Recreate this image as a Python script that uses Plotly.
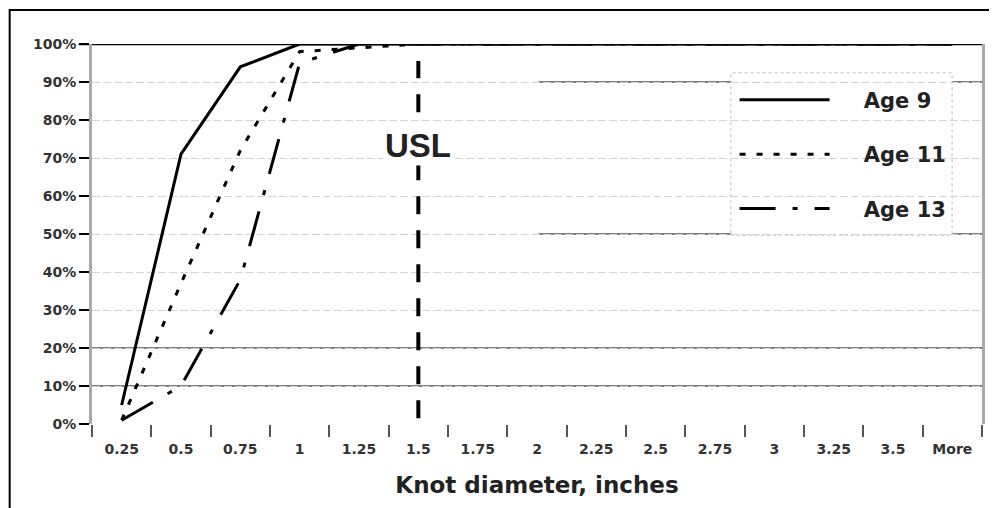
import plotly.graph_objects as go

# knot diameter bins (Excel histogram style, last bin "More")
categories = ['0.25', '0.5', '0.75', '1', '1.25', '1.5', '1.75', '2',
              '2.25', '2.5', '2.75', '3', '3.25', '3.5', 'More']

# cumulative percent by age
age9 = [5, 71, 94, 100, 100, 100, 100, 100, 100, 100, 100, 100, 100, 100, 100]
age11 = [1, 37, 72, 98, 99, 100, 100, 100, 100, 100, 100, 100, 100, 100, 100]
age13 = [1, 10, 38, 95, 100, 100, 100, 100, 100, 100, 100, 100, 100, 100, 100]

usl_bin = '1.5'
ytick_vals = list(range(0, 101, 10))
ytick_text = [f'{v}%' for v in ytick_vals]

FONT = 'Liberation Sans'
WIDE = 'DejaVu Sans'
PAD = '\u00a0' * 4  # gap between legend sample and its text

# category axis: shapes need the bin index, not the label
usl_x = categories.index(usl_bin)

fig = go.Figure()

fig.add_trace(go.Scatter(x=categories, y=age9, name=PAD + 'Age 9', mode='lines',
                         legendgroup='a9',
                         line=dict(color='black', width=3)))
fig.add_trace(go.Scatter(x=categories, y=age11, name=PAD + 'Age 11', mode='lines',
                         legendgroup='a11',
                         line=dict(color='black', width=3, dash='6px,11px')))
fig.add_trace(go.Scatter(x=categories, y=age13, name=PAD + 'Age 13', mode='lines',
                         legendgroup='a13',
                         line=dict(color='black', width=3, dash='36px,17px,5px,17px')))

shapes = []
# outer frame of the picture
shapes.append(dict(type='rect', xref='paper', yref='paper',
                   x0=-0.0925, x1=1.05, y0=-0.3, y1=1.0895,
                   line=dict(color='black', width=2), layer='below'))
# dark 10% / 20% lines
for v in [10, 20]:
    shapes.append(dict(type='line', xref='paper', yref='y', x0=0, x1=1, y0=v, y1=v,
                       line=dict(color='#555', width=1.5), layer='between'))
# dark stray segments at 90% / 50%
for v in [90, 50]:
    for a, b in [(0.5017, 0.7178), (0.9664, 1.0)]:
        shapes.append(dict(type='line', xref='paper', yref='y', x0=a, x1=b, y0=v, y1=v,
                           line=dict(color='#555', width=1.5), layer='between'))
# legend box
shapes.append(dict(type='rect', xref='paper', yref='paper',
                   x0=0.7178, x1=0.9664, y0=0.497, y1=0.924,
                   fillcolor='white', line=dict(color='#bbb', width=1, dash='dot'),
                   layer='between'))
# top 100% line
shapes.append(dict(type='line', xref='paper', yref='y', x0=-0.015, x1=1, y0=100, y1=100,
                   line=dict(color='black', width=2.5), layer='between'))
# USL
shapes.append(dict(type='line', xref='x', yref='y', x0=usl_x, x1=usl_x, y0=1.5, y1=95.5,
                   line=dict(color='black', width=4, dash='18px,16px'), layer='above'))

# page body has an 8px margin, so the figure is 8px smaller and shifted
fig.update_layout(
    width=989, height=500,
    margin=dict(l=84, r=12, t=36, b=84),
    paper_bgcolor='white', plot_bgcolor='white',
    font=dict(family=FONT, color='#222'),
    shapes=shapes,
    showlegend=True,
    legend=dict(x=0.722, y=0.906, xanchor='left', yanchor='top',
                bgcolor='rgba(0,0,0,0)', borderwidth=0,
                font=dict(family=WIDE, size=21, color='#222', weight='bold'),
                itemwidth=90, tracegroupgap=24),
    annotations=[dict(x=usl_x, y=73.4, xref='x', yref='y', text='<b>USL</b>',
                      showarrow=False, bgcolor='white',
                      font=dict(family=FONT, size=33, color='#222'))],
)

fig.update_xaxes(
    type='category', categoryorder='array', categoryarray=categories,
    range=[-0.5, len(categories) - 0.5],
    tickson='boundaries', ticks='outside', ticklen=12, tickwidth=2, tickcolor='#555',
    ticklabelstandoff=15,
    showgrid=False, showline=False, zeroline=False,
    tickfont=dict(family=WIDE, size=14, color='#333', weight='bold'),
    title=dict(text='<b>Knot diameter, inches</b>', standoff=20,
               font=dict(family=WIDE, size=23, color='#222')),
)

fig.update_yaxes(
    range=[0, 100], tickvals=ytick_vals, ticktext=ytick_text,
    ticks='outside', ticklen=10, tickwidth=2, tickcolor='black',
    showline=True, linecolor='#aaa', linewidth=3, mirror=True,
    showgrid=True, gridcolor='#d4d4d4', gridwidth=1, griddash='8px,3px',
    zeroline=False,
    tickfont=dict(family=WIDE, size=14, color='#333', weight='bold'),
)

fig.write_html('out.html')
